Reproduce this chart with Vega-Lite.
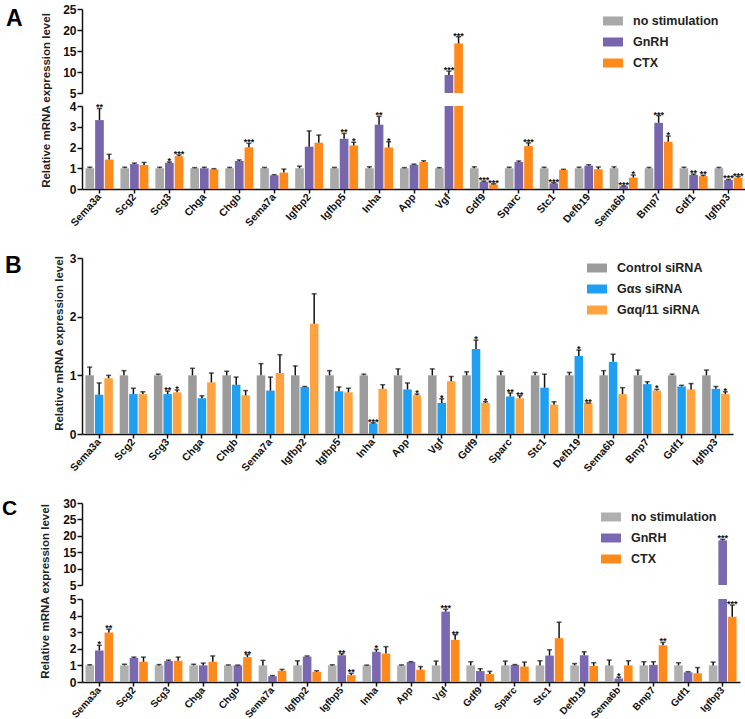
{
"$schema":"https://vega.github.io/schema/vega-lite/v6.json",
"background":"white",
"padding":{"left":2,"top":3,"right":0,"bottom":0},
"spacing":23,
"resolve":{"scale":{"x":"independent","y":"independent","color":"independent","xOffset":"independent"},"legend":{"color":"independent"}},
"datasets":{
"A":[
{"gene":"Sema3a","grp":"no stimulation","v":1.0,"hi":1.05,"sig":""},{"gene":"Sema3a","grp":"GnRH","v":3.32,"hi":3.88,"sig":"**"},{"gene":"Sema3a","grp":"CTX","v":1.42,"hi":1.67,"sig":""},
{"gene":"Scg2","grp":"no stimulation","v":1.0,"hi":1.05,"sig":""},{"gene":"Scg2","grp":"GnRH","v":1.2,"hi":1.25,"sig":""},{"gene":"Scg2","grp":"CTX","v":1.16,"hi":1.28,"sig":""},
{"gene":"Scg3","grp":"no stimulation","v":1.0,"hi":1.05,"sig":""},{"gene":"Scg3","grp":"GnRH","v":1.26,"hi":1.3,"sig":"*"},{"gene":"Scg3","grp":"CTX","v":1.58,"hi":1.64,"sig":"***"},
{"gene":"Chga","grp":"no stimulation","v":1.0,"hi":1.03,"sig":""},{"gene":"Chga","grp":"GnRH","v":1.0,"hi":1.05,"sig":""},{"gene":"Chga","grp":"CTX","v":0.95,"hi":0.98,"sig":""},
{"gene":"Chgb","grp":"no stimulation","v":1.0,"hi":1.04,"sig":""},{"gene":"Chgb","grp":"GnRH","v":1.35,"hi":1.4,"sig":""},{"gene":"Chgb","grp":"CTX","v":2.01,"hi":2.2,"sig":"***"},
{"gene":"Sema7a","grp":"no stimulation","v":1.0,"hi":1.04,"sig":""},{"gene":"Sema7a","grp":"GnRH","v":0.66,"hi":0.69,"sig":""},{"gene":"Sema7a","grp":"CTX","v":0.79,"hi":0.96,"sig":""},
{"gene":"Igfbp2","grp":"no stimulation","v":1.0,"hi":1.1,"sig":""},{"gene":"Igfbp2","grp":"GnRH","v":2.04,"hi":2.8,"sig":""},{"gene":"Igfbp2","grp":"CTX","v":2.23,"hi":2.6,"sig":""},
{"gene":"Igfbp5","grp":"no stimulation","v":1.0,"hi":1.04,"sig":""},{"gene":"Igfbp5","grp":"GnRH","v":2.42,"hi":2.68,"sig":"**"},{"gene":"Igfbp5","grp":"CTX","v":2.1,"hi":2.25,"sig":"*"},
{"gene":"Inha","grp":"no stimulation","v":1.0,"hi":1.07,"sig":""},{"gene":"Inha","grp":"GnRH","v":3.1,"hi":3.5,"sig":"**"},{"gene":"Inha","grp":"CTX","v":2.0,"hi":2.28,"sig":"*"},
{"gene":"App","grp":"no stimulation","v":1.0,"hi":1.03,"sig":""},{"gene":"App","grp":"GnRH","v":1.17,"hi":1.2,"sig":""},{"gene":"App","grp":"CTX","v":1.3,"hi":1.36,"sig":""},
{"gene":"Vgf","grp":"no stimulation","v":1.0,"hi":1.03,"sig":""},{"gene":"Vgf","grp":"GnRH","v":9.3,"hi":10.2,"sig":"***"},{"gene":"Vgf","grp":"CTX","v":16.8,"hi":18.4,"sig":"***"},
{"gene":"Gdf9","grp":"no stimulation","v":1.0,"hi":1.07,"sig":""},{"gene":"Gdf9","grp":"GnRH","v":0.35,"hi":0.38,"sig":"***"},{"gene":"Gdf9","grp":"CTX","v":0.22,"hi":0.25,"sig":"***"},
{"gene":"Sparc","grp":"no stimulation","v":1.0,"hi":1.05,"sig":""},{"gene":"Sparc","grp":"GnRH","v":1.3,"hi":1.35,"sig":""},{"gene":"Sparc","grp":"CTX","v":2.07,"hi":2.22,"sig":"***"},
{"gene":"Stc1","grp":"no stimulation","v":1.0,"hi":1.05,"sig":""},{"gene":"Stc1","grp":"GnRH","v":0.27,"hi":0.3,"sig":"***"},{"gene":"Stc1","grp":"CTX","v":0.92,"hi":0.95,"sig":""},
{"gene":"Defb19","grp":"no stimulation","v":1.0,"hi":1.05,"sig":""},{"gene":"Defb19","grp":"GnRH","v":1.12,"hi":1.17,"sig":""},{"gene":"Defb19","grp":"CTX","v":0.95,"hi":1.06,"sig":""},
{"gene":"Sema6b","grp":"no stimulation","v":1.0,"hi":1.07,"sig":""},{"gene":"Sema6b","grp":"GnRH","v":0.13,"hi":0.15,"sig":"***"},{"gene":"Sema6b","grp":"CTX","v":0.55,"hi":0.67,"sig":"*"},
{"gene":"Bmp7","grp":"no stimulation","v":1.0,"hi":1.04,"sig":""},{"gene":"Bmp7","grp":"GnRH","v":3.19,"hi":3.54,"sig":"***"},{"gene":"Bmp7","grp":"CTX","v":2.28,"hi":2.55,"sig":"*"},
{"gene":"Gdf1","grp":"no stimulation","v":1.0,"hi":1.05,"sig":""},{"gene":"Gdf1","grp":"GnRH","v":0.68,"hi":0.72,"sig":"**"},{"gene":"Gdf1","grp":"CTX","v":0.62,"hi":0.66,"sig":"**"},
{"gene":"Igfbp3","grp":"no stimulation","v":1.0,"hi":1.04,"sig":""},{"gene":"Igfbp3","grp":"GnRH","v":0.43,"hi":0.46,"sig":"***"},{"gene":"Igfbp3","grp":"CTX","v":0.55,"hi":0.6,"sig":"***"}
],
"B":[
{"gene":"Sema3a","grp":"Control siRNA","v":1.0,"hi":1.14,"sig":""},{"gene":"Sema3a","grp":"Gαs siRNA","v":0.67,"hi":0.87,"sig":""},{"gene":"Sema3a","grp":"Gαq/11 siRNA","v":0.95,"hi":1.0,"sig":""},
{"gene":"Scg2","grp":"Control siRNA","v":1.0,"hi":1.08,"sig":""},{"gene":"Scg2","grp":"Gαs siRNA","v":0.68,"hi":0.78,"sig":""},{"gene":"Scg2","grp":"Gαq/11 siRNA","v":0.68,"hi":0.72,"sig":""},
{"gene":"Scg3","grp":"Control siRNA","v":1.0,"hi":1.02,"sig":""},{"gene":"Scg3","grp":"Gαs siRNA","v":0.68,"hi":0.73,"sig":"**"},{"gene":"Scg3","grp":"Gαq/11 siRNA","v":0.71,"hi":0.75,"sig":"*"},
{"gene":"Chga","grp":"Control siRNA","v":1.0,"hi":1.12,"sig":""},{"gene":"Chga","grp":"Gαs siRNA","v":0.61,"hi":0.65,"sig":""},{"gene":"Chga","grp":"Gαq/11 siRNA","v":0.88,"hi":1.04,"sig":""},
{"gene":"Chgb","grp":"Control siRNA","v":1.0,"hi":1.07,"sig":""},{"gene":"Chgb","grp":"Gαs siRNA","v":0.84,"hi":0.97,"sig":""},{"gene":"Chgb","grp":"Gαq/11 siRNA","v":0.66,"hi":0.74,"sig":""},
{"gene":"Sema7a","grp":"Control siRNA","v":1.0,"hi":1.2,"sig":""},{"gene":"Sema7a","grp":"Gαs siRNA","v":0.74,"hi":0.97,"sig":""},{"gene":"Sema7a","grp":"Gαq/11 siRNA","v":1.04,"hi":1.35,"sig":""},
{"gene":"Igfbp2","grp":"Control siRNA","v":1.0,"hi":1.16,"sig":""},{"gene":"Igfbp2","grp":"Gαs siRNA","v":0.8,"hi":0.81,"sig":""},{"gene":"Igfbp2","grp":"Gαq/11 siRNA","v":1.88,"hi":2.39,"sig":""},
{"gene":"Igfbp5","grp":"Control siRNA","v":1.0,"hi":1.08,"sig":""},{"gene":"Igfbp5","grp":"Gαs siRNA","v":0.73,"hi":0.8,"sig":""},{"gene":"Igfbp5","grp":"Gαq/11 siRNA","v":0.71,"hi":0.78,"sig":""},
{"gene":"Inha","grp":"Control siRNA","v":1.0,"hi":1.02,"sig":""},{"gene":"Inha","grp":"Gαs siRNA","v":0.18,"hi":0.19,"sig":"***"},{"gene":"Inha","grp":"Gαq/11 siRNA","v":0.77,"hi":0.84,"sig":""},
{"gene":"App","grp":"Control siRNA","v":1.0,"hi":1.11,"sig":""},{"gene":"App","grp":"Gαs siRNA","v":0.76,"hi":0.87,"sig":""},{"gene":"App","grp":"Gαq/11 siRNA","v":0.66,"hi":0.68,"sig":"*"},
{"gene":"Vgf","grp":"Control siRNA","v":1.0,"hi":1.11,"sig":""},{"gene":"Vgf","grp":"Gαs siRNA","v":0.53,"hi":0.6,"sig":"*"},{"gene":"Vgf","grp":"Gαq/11 siRNA","v":0.9,"hi":0.98,"sig":""},
{"gene":"Gdf9","grp":"Control siRNA","v":1.0,"hi":1.06,"sig":""},{"gene":"Gdf9","grp":"Gαs siRNA","v":1.45,"hi":1.6,"sig":"*"},{"gene":"Gdf9","grp":"Gαq/11 siRNA","v":0.53,"hi":0.55,"sig":"*"},
{"gene":"Sparc","grp":"Control siRNA","v":1.0,"hi":1.07,"sig":""},{"gene":"Sparc","grp":"Gαs siRNA","v":0.64,"hi":0.7,"sig":"**"},{"gene":"Sparc","grp":"Gαq/11 siRNA","v":0.61,"hi":0.65,"sig":"**"},
{"gene":"Stc1","grp":"Control siRNA","v":1.0,"hi":1.05,"sig":""},{"gene":"Stc1","grp":"Gαs siRNA","v":0.79,"hi":1.02,"sig":""},{"gene":"Stc1","grp":"Gαq/11 siRNA","v":0.5,"hi":0.55,"sig":""},
{"gene":"Defb19","grp":"Control siRNA","v":1.0,"hi":1.05,"sig":""},{"gene":"Defb19","grp":"Gαs siRNA","v":1.33,"hi":1.43,"sig":"*"},{"gene":"Defb19","grp":"Gαq/11 siRNA","v":0.53,"hi":0.53,"sig":"**"},
{"gene":"Sema6b","grp":"Control siRNA","v":1.0,"hi":1.08,"sig":""},{"gene":"Sema6b","grp":"Gαs siRNA","v":1.23,"hi":1.36,"sig":""},{"gene":"Sema6b","grp":"Gαq/11 siRNA","v":0.68,"hi":0.79,"sig":""},
{"gene":"Bmp7","grp":"Control siRNA","v":1.0,"hi":1.09,"sig":""},{"gene":"Bmp7","grp":"Gαs siRNA","v":0.85,"hi":0.89,"sig":""},{"gene":"Bmp7","grp":"Gαq/11 siRNA","v":0.74,"hi":0.76,"sig":"*"},
{"gene":"Gdf1","grp":"Control siRNA","v":1.0,"hi":1.02,"sig":""},{"gene":"Gdf1","grp":"Gαs siRNA","v":0.81,"hi":0.83,"sig":""},{"gene":"Gdf1","grp":"Gαq/11 siRNA","v":0.76,"hi":0.86,"sig":""},
{"gene":"Igfbp3","grp":"Control siRNA","v":1.0,"hi":1.09,"sig":""},{"gene":"Igfbp3","grp":"Gαs siRNA","v":0.77,"hi":0.81,"sig":""},{"gene":"Igfbp3","grp":"Gαq/11 siRNA","v":0.68,"hi":0.72,"sig":"*"}
],
"C":[
{"gene":"Sema3a","grp":"no stimulation","v":1.0,"hi":1.04,"sig":""},{"gene":"Sema3a","grp":"GnRH","v":1.9,"hi":2.21,"sig":"*"},{"gene":"Sema3a","grp":"CTX","v":2.98,"hi":3.18,"sig":"**"},
{"gene":"Scg2","grp":"no stimulation","v":1.0,"hi":1.07,"sig":""},{"gene":"Scg2","grp":"GnRH","v":1.45,"hi":1.5,"sig":""},{"gene":"Scg2","grp":"CTX","v":1.22,"hi":1.5,"sig":""},
{"gene":"Scg3","grp":"no stimulation","v":1.0,"hi":1.05,"sig":""},{"gene":"Scg3","grp":"GnRH","v":1.26,"hi":1.32,"sig":""},{"gene":"Scg3","grp":"CTX","v":1.28,"hi":1.5,"sig":""},
{"gene":"Chga","grp":"no stimulation","v":1.0,"hi":1.07,"sig":""},{"gene":"Chga","grp":"GnRH","v":1.0,"hi":1.14,"sig":""},{"gene":"Chga","grp":"CTX","v":1.22,"hi":1.57,"sig":""},
{"gene":"Chgb","grp":"no stimulation","v":1.0,"hi":1.03,"sig":""},{"gene":"Chgb","grp":"GnRH","v":1.0,"hi":1.02,"sig":""},{"gene":"Chgb","grp":"CTX","v":1.5,"hi":1.65,"sig":"**"},
{"gene":"Sema7a","grp":"no stimulation","v":1.0,"hi":1.3,"sig":""},{"gene":"Sema7a","grp":"GnRH","v":0.35,"hi":0.39,"sig":""},{"gene":"Sema7a","grp":"CTX","v":0.68,"hi":0.76,"sig":""},
{"gene":"Igfbp2","grp":"no stimulation","v":1.0,"hi":1.28,"sig":""},{"gene":"Igfbp2","grp":"GnRH","v":1.53,"hi":1.57,"sig":""},{"gene":"Igfbp2","grp":"CTX","v":0.62,"hi":0.68,"sig":""},
{"gene":"Igfbp5","grp":"no stimulation","v":1.0,"hi":1.04,"sig":""},{"gene":"Igfbp5","grp":"GnRH","v":1.61,"hi":1.7,"sig":"**"},{"gene":"Igfbp5","grp":"CTX","v":0.41,"hi":0.52,"sig":"**"},
{"gene":"Inha","grp":"no stimulation","v":1.0,"hi":1.02,"sig":""},{"gene":"Inha","grp":"GnRH","v":1.82,"hi":1.96,"sig":"*"},{"gene":"Inha","grp":"CTX","v":1.71,"hi":2.13,"sig":""},
{"gene":"App","grp":"no stimulation","v":1.0,"hi":1.03,"sig":""},{"gene":"App","grp":"GnRH","v":1.2,"hi":1.22,"sig":""},{"gene":"App","grp":"CTX","v":0.74,"hi":0.93,"sig":""},
{"gene":"Vgf","grp":"no stimulation","v":1.0,"hi":1.26,"sig":""},{"gene":"Vgf","grp":"GnRH","v":4.24,"hi":4.38,"sig":"***"},{"gene":"Vgf","grp":"CTX","v":2.54,"hi":2.85,"sig":"**"},
{"gene":"Gdf9","grp":"no stimulation","v":1.0,"hi":1.22,"sig":""},{"gene":"Gdf9","grp":"GnRH","v":0.66,"hi":0.8,"sig":""},{"gene":"Gdf9","grp":"CTX","v":0.48,"hi":0.64,"sig":""},
{"gene":"Sparc","grp":"no stimulation","v":1.0,"hi":1.26,"sig":""},{"gene":"Sparc","grp":"GnRH","v":1.03,"hi":1.05,"sig":""},{"gene":"Sparc","grp":"CTX","v":0.93,"hi":1.2,"sig":""},
{"gene":"Stc1","grp":"no stimulation","v":1.0,"hi":1.28,"sig":""},{"gene":"Stc1","grp":"GnRH","v":1.59,"hi":1.94,"sig":""},{"gene":"Stc1","grp":"CTX","v":2.64,"hi":3.6,"sig":""},
{"gene":"Defb19","grp":"no stimulation","v":1.0,"hi":1.11,"sig":""},{"gene":"Defb19","grp":"GnRH","v":1.61,"hi":1.82,"sig":""},{"gene":"Defb19","grp":"CTX","v":0.97,"hi":1.16,"sig":""},
{"gene":"Sema6b","grp":"no stimulation","v":1.0,"hi":1.32,"sig":""},{"gene":"Sema6b","grp":"GnRH","v":0.21,"hi":0.29,"sig":"*"},{"gene":"Sema6b","grp":"CTX","v":1.0,"hi":1.28,"sig":""},
{"gene":"Bmp7","grp":"no stimulation","v":1.0,"hi":1.22,"sig":""},{"gene":"Bmp7","grp":"GnRH","v":1.03,"hi":1.22,"sig":""},{"gene":"Bmp7","grp":"CTX","v":2.21,"hi":2.38,"sig":"**"},
{"gene":"Gdf1","grp":"no stimulation","v":1.0,"hi":1.16,"sig":""},{"gene":"Gdf1","grp":"GnRH","v":0.58,"hi":0.62,"sig":""},{"gene":"Gdf1","grp":"CTX","v":0.52,"hi":0.87,"sig":""},
{"gene":"Igfbp3","grp":"no stimulation","v":1.0,"hi":1.2,"sig":""},{"gene":"Igfbp3","grp":"GnRH","v":18.6,"hi":18.9,"sig":"***"},{"gene":"Igfbp3","grp":"CTX","v":3.93,"hi":4.63,"sig":"***"}
]
},
"vconcat":[
{"vconcat":[
 {"width":664,"height":84,
  "title":{"text":"A","anchor":"start","frame":"group","fontSize":23,"fontWeight":"bold","font":"Liberation Sans","color":"#000","dx":-76,"dy":46,"offset":0,"baseline":"alphabetic"},
  "data":{"name":"A"},
  "transform":[{"filter":"datum.v > 5"}],
  "encoding":{
   "x":{"field":"gene","type":"nominal","scale":{"domain":["Sema3a","Scg2","Scg3","Chga","Chgb","Sema7a","Igfbp2","Igfbp5","Inha","App","Vgf","Gdf9","Sparc","Stc1","Defb19","Sema6b","Bmp7","Gdf1","Igfbp3"],"paddingInner":0.2,"paddingOuter":0.1},"axis":null},
   "xOffset":{"field":"grp","type":"nominal","scale":{"domain":["no stimulation","GnRH","CTX"],"paddingInner":0.1,"paddingOuter":0}}
  },
  "layer":[
   {"mark":{"type":"bar","clip":true},"encoding":{
     "y":{"field":"v","type":"quantitative","scale":{"domain":[5,25],"nice":false,"zero":false},"axis":{"values":[5,10,15,20,25],"title":null}},
     "y2":{"datum":5},
     "color":{"field":"grp","type":"nominal","scale":{"domain":["no stimulation","GnRH","CTX"],"range":["#a9a9a9","#7866ad","#ff8a1c"]},
       "legend":{"orient":"none","legendX":521,"legendY":2,"title":null,"symbolType":"M-1,-0.45L1,-0.45L1,0.45L-1,0.45Z","symbolSize":400,"symbolStrokeWidth":0,"symbolOpacity":1,"labelFont":"Liberation Sans","labelFontSize":12.5,"labelFontWeight":"bold","labelColor":"#222","labelOffset":10,"rowPadding":4,"padding":0}}}},
   {"mark":{"type":"rule","clip":true,"color":"#111","strokeWidth":1.5},"encoding":{"y":{"field":"v","type":"quantitative","axis":{"values":[5,10,15,20,25],"title":null}},"y2":{"field":"hi"}}},
   {"mark":{"type":"tick","clip":true,"color":"#111","thickness":1.5,"size":5},"encoding":{"y":{"field":"hi","type":"quantitative","axis":{"values":[5,10,15,20,25],"title":null}}}},
   {"mark":{"type":"text","dy":2,"baseline":"alphabetic","fontSize":9,"fontWeight":"bold","color":"#111"},"encoding":{"y":{"field":"hi","type":"quantitative","axis":{"values":[5,10,15,20,25],"title":null}},"text":{"field":"sig"}}}
  ]},
 {"width":664,"height":83,
  "data":{"name":"A"},
  "encoding":{
   "x":{"field":"gene","type":"nominal","scale":{"domain":["Sema3a","Scg2","Scg3","Chga","Chgb","Sema7a","Igfbp2","Igfbp5","Inha","App","Vgf","Gdf9","Sparc","Stc1","Defb19","Sema6b","Bmp7","Gdf1","Igfbp3"],"paddingInner":0.2,"paddingOuter":0.1},"axis":{"title":null}},
   "xOffset":{"field":"grp","type":"nominal","scale":{"domain":["no stimulation","GnRH","CTX"],"paddingInner":0.1,"paddingOuter":0}}
  },
  "layer":[
   {"mark":{"type":"bar","clip":true},"encoding":{
     "y":{"field":"v","type":"quantitative","scale":{"domain":[0,4],"nice":false,"zero":false},"axis":{"values":[0,1,2,3,4],"title":"Relative mRNA expression level","titleX":-36,"titleY":-6,"titleAlign":"center","titleBaseline":"middle","titleAngle":270}},
     "color":{"field":"grp","type":"nominal","scale":{"domain":["no stimulation","GnRH","CTX"],"range":["#a9a9a9","#7866ad","#ff8a1c"]},"legend":null}}},
   {"mark":{"type":"rule","clip":true,"color":"#111","strokeWidth":1.5},"encoding":{"y":{"field":"v","type":"quantitative","axis":{"values":[0,1,2,3,4],"title":"Relative mRNA expression level","titleX":-36,"titleY":-6,"titleAlign":"center","titleBaseline":"middle","titleAngle":270}},"y2":{"field":"hi"}}},
   {"mark":{"type":"tick","clip":true,"color":"#111","thickness":1.5,"size":5},"encoding":{"y":{"field":"hi","type":"quantitative","axis":{"values":[0,1,2,3,4],"title":"Relative mRNA expression level","titleX":-36,"titleY":-6,"titleAlign":"center","titleBaseline":"middle","titleAngle":270}}}},
   {"transform":[{"filter":"datum.hi < 4.5"}],"mark":{"type":"text","dy":2,"baseline":"alphabetic","fontSize":9,"fontWeight":"bold","color":"#111"},"encoding":{"y":{"field":"hi","type":"quantitative","axis":{"values":[0,1,2,3,4],"title":"Relative mRNA expression level","titleX":-36,"titleY":-6,"titleAlign":"center","titleBaseline":"middle","titleAngle":270}},"text":{"field":"sig"}}}
  ]}
 ],
 "spacing":13,"bounds":"flush",
 "resolve":{"scale":{"x":"independent","y":"independent","color":"independent","xOffset":"independent"},"legend":{"color":"independent"}}
},
{"width":651,"height":176,
  "title":{"text":"B","anchor":"start","frame":"group","fontSize":23,"fontWeight":"bold","font":"Liberation Sans","color":"#000","dx":-77,"dy":44,"offset":0,"baseline":"alphabetic"},
  "data":{"name":"B"},
  "encoding":{
   "x":{"field":"gene","type":"nominal","scale":{"domain":["Sema3a","Scg2","Scg3","Chga","Chgb","Sema7a","Igfbp2","Igfbp5","Inha","App","Vgf","Gdf9","Sparc","Stc1","Defb19","Sema6b","Bmp7","Gdf1","Igfbp3"],"paddingInner":0.2,"paddingOuter":0.1},"axis":{"title":null}},
   "xOffset":{"field":"grp","type":"nominal","scale":{"domain":["Control siRNA","Gαs siRNA","Gαq/11 siRNA"],"paddingInner":0.1,"paddingOuter":0}}
  },
  "layer":[
   {"mark":{"type":"bar","clip":true},"encoding":{
     "y":{"field":"v","type":"quantitative","scale":{"domain":[0,3],"nice":false,"zero":false},"axis":{"values":[0,1,2,3],"title":"Relative mRNA expression level","titleX":-23,"titleY":85,"titleAlign":"center","titleBaseline":"middle","titleAngle":270}},
     "color":{"field":"grp","type":"nominal","scale":{"domain":["Control siRNA","Gαs siRNA","Gαq/11 siRNA"],"range":["#9b9b9b","#1e9ff2","#ffa23f"]},
       "legend":{"orient":"none","legendX":505,"legendY":0,"title":null,"symbolType":"M-1,-0.45L1,-0.45L1,0.45L-1,0.45Z","symbolSize":400,"symbolStrokeWidth":0,"symbolOpacity":1,"labelFont":"Liberation Sans","labelFontSize":12.5,"labelFontWeight":"bold","labelColor":"#222","labelOffset":10,"rowPadding":4,"padding":0}}}},
   {"mark":{"type":"rule","clip":true,"color":"#111","strokeWidth":1.5},"encoding":{"y":{"field":"v","type":"quantitative","axis":{"values":[0,1,2,3],"title":"Relative mRNA expression level","titleX":-23,"titleY":85,"titleAlign":"center","titleBaseline":"middle","titleAngle":270}},"y2":{"field":"hi"}}},
   {"mark":{"type":"tick","clip":true,"color":"#111","thickness":1.5,"size":5},"encoding":{"y":{"field":"hi","type":"quantitative","axis":{"values":[0,1,2,3],"title":"Relative mRNA expression level","titleX":-23,"titleY":85,"titleAlign":"center","titleBaseline":"middle","titleAngle":270}}}},
   {"mark":{"type":"text","dy":2,"baseline":"alphabetic","fontSize":9,"fontWeight":"bold","color":"#111"},"encoding":{"y":{"field":"hi","type":"quantitative","axis":{"values":[0,1,2,3],"title":"Relative mRNA expression level","titleX":-23,"titleY":85,"titleAlign":"center","titleBaseline":"middle","titleAngle":270}},"text":{"field":"sig"}}}
  ]},
{"vconcat":[
 {"width":658,"height":82,
  "title":{"text":"C","anchor":"start","frame":"group","fontSize":21,"fontWeight":"bold","font":"Liberation Sans","color":"#000","dx":-80,"dy":39,"offset":0,"baseline":"alphabetic"},
  "data":{"name":"C"},
  "transform":[{"filter":"datum.v > 5"}],
  "encoding":{
   "x":{"field":"gene","type":"nominal","scale":{"domain":["Sema3a","Scg2","Scg3","Chga","Chgb","Sema7a","Igfbp2","Igfbp5","Inha","App","Vgf","Gdf9","Sparc","Stc1","Defb19","Sema6b","Bmp7","Gdf1","Igfbp3"],"paddingInner":0.2,"paddingOuter":0.1},"axis":null},
   "xOffset":{"field":"grp","type":"nominal","scale":{"domain":["no stimulation","GnRH","CTX"],"paddingInner":0.1,"paddingOuter":0}}
  },
  "layer":[
   {"mark":{"type":"bar","clip":true},"encoding":{
     "y":{"field":"v","type":"quantitative","scale":{"domain":[5,30],"nice":false,"zero":false},"axis":{"values":[5,10,15,20,25,30],"title":null}},
     "y2":{"datum":5},
     "color":{"field":"grp","type":"nominal","scale":{"domain":["no stimulation","GnRH","CTX"],"range":["#b0b0b0","#7a68b0","#ff8a1c"]},
       "legend":{"orient":"none","legendX":519,"legendY":4,"title":null,"symbolType":"M-1,-0.45L1,-0.45L1,0.45L-1,0.45Z","symbolSize":400,"symbolStrokeWidth":0,"symbolOpacity":1,"labelFont":"Liberation Sans","labelFontSize":12.5,"labelFontWeight":"bold","labelColor":"#222","labelOffset":10,"rowPadding":4,"padding":0}}}},
   {"mark":{"type":"rule","clip":true,"color":"#111","strokeWidth":1.5},"encoding":{"y":{"field":"v","type":"quantitative","axis":{"values":[5,10,15,20,25,30],"title":null}},"y2":{"field":"hi"}}},
   {"mark":{"type":"tick","clip":true,"color":"#111","thickness":1.5,"size":5},"encoding":{"y":{"field":"hi","type":"quantitative","axis":{"values":[5,10,15,20,25,30],"title":null}}}},
   {"mark":{"type":"text","dy":2,"baseline":"alphabetic","fontSize":9,"fontWeight":"bold","color":"#111"},"encoding":{"y":{"field":"hi","type":"quantitative","axis":{"values":[5,10,15,20,25,30],"title":null}},"text":{"field":"sig"}}}
  ]},
 {"width":658,"height":83,
  "data":{"name":"C"},
  "encoding":{
   "x":{"field":"gene","type":"nominal","scale":{"domain":["Sema3a","Scg2","Scg3","Chga","Chgb","Sema7a","Igfbp2","Igfbp5","Inha","App","Vgf","Gdf9","Sparc","Stc1","Defb19","Sema6b","Bmp7","Gdf1","Igfbp3"],"paddingInner":0.2,"paddingOuter":0.1},"axis":{"title":null,"labelFontSize":10}},
   "xOffset":{"field":"grp","type":"nominal","scale":{"domain":["no stimulation","GnRH","CTX"],"paddingInner":0.1,"paddingOuter":0}}
  },
  "layer":[
   {"mark":{"type":"bar","clip":true},"encoding":{
     "y":{"field":"v","type":"quantitative","scale":{"domain":[0,5],"nice":false,"zero":false},"axis":{"values":[0,1,2,3,4,5],"title":"Relative mRNA expression level","titleX":-37,"titleY":-8,"titleAlign":"center","titleBaseline":"middle","titleAngle":270}},
     "color":{"field":"grp","type":"nominal","scale":{"domain":["no stimulation","GnRH","CTX"],"range":["#b0b0b0","#7a68b0","#ff8a1c"]},"legend":null}}},
   {"mark":{"type":"rule","clip":true,"color":"#111","strokeWidth":1.5},"encoding":{"y":{"field":"v","type":"quantitative","axis":{"values":[0,1,2,3,4,5],"title":"Relative mRNA expression level","titleX":-37,"titleY":-8,"titleAlign":"center","titleBaseline":"middle","titleAngle":270}},"y2":{"field":"hi"}}},
   {"mark":{"type":"tick","clip":true,"color":"#111","thickness":1.5,"size":5},"encoding":{"y":{"field":"hi","type":"quantitative","axis":{"values":[0,1,2,3,4,5],"title":"Relative mRNA expression level","titleX":-37,"titleY":-8,"titleAlign":"center","titleBaseline":"middle","titleAngle":270}}}},
   {"transform":[{"filter":"datum.hi < 5.5"}],"mark":{"type":"text","dy":2,"baseline":"alphabetic","fontSize":9,"fontWeight":"bold","color":"#111"},"encoding":{"y":{"field":"hi","type":"quantitative","axis":{"values":[0,1,2,3,4,5],"title":"Relative mRNA expression level","titleX":-37,"titleY":-8,"titleAlign":"center","titleBaseline":"middle","titleAngle":270}},"text":{"field":"sig"}}}
  ]}
 ],
 "spacing":14,"bounds":"flush",
 "resolve":{"scale":{"x":"independent","y":"independent","color":"independent","xOffset":"independent"},"legend":{"color":"independent"}}
}
],
"config":{
 "font":"Liberation Sans",
 "view":{"stroke":null},
 "axis":{"domainColor":"#111","domainWidth":1.5,"tickColor":"#111","tickWidth":1.5,"labelFont":"Liberation Sans","labelFontWeight":"bold","labelColor":"#111","grid":false,"titleFont":"Liberation Sans","titleFontWeight":"bold","titleColor":"#222","titleFontSize":11.5},
 "axisY":{"tickSize":5,"labelFontSize":12,"labelPadding":1},
 "axisX":{"tickSize":4,"labelFontSize":10.5,"labelAngle":-48,"labelAlign":"right","labelBaseline":"middle","labelPadding":2}
}
}
